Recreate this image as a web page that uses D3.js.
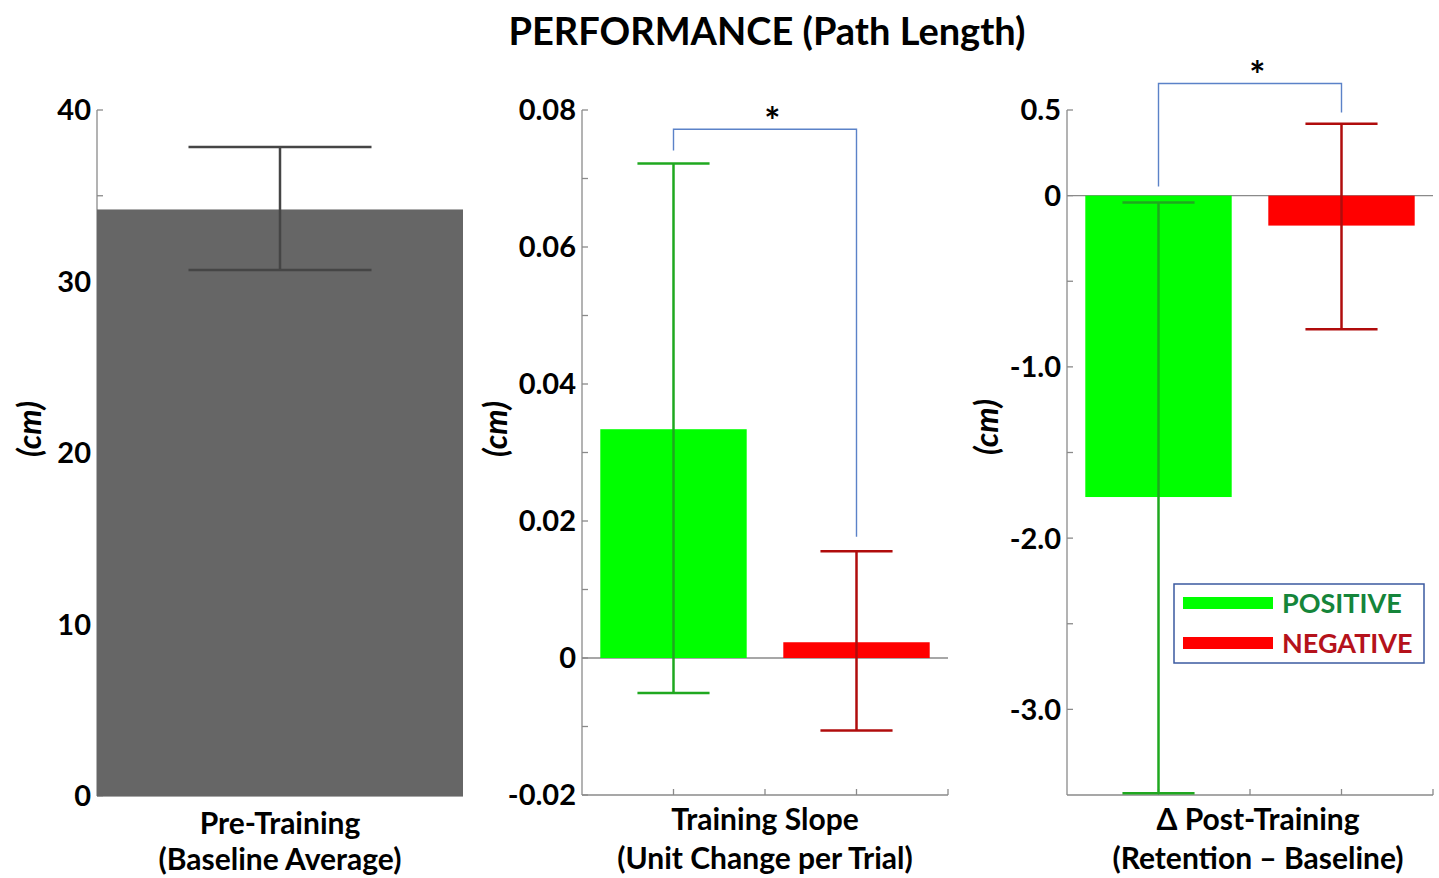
<!DOCTYPE html>
<html><head><meta charset="utf-8">
<script src="https://cdn.jsdelivr.net/npm/d3@7"></script>
<style>
html,body{margin:0;padding:0;background:#fff;}
svg text{font-family:Lato,"Open Sans",sans-serif;font-weight:bold;}
</style></head>
<body>
<svg id="chart" width="1439" height="878"></svg>
<script>
// ---------- DATA ----------
const title = "PERFORMANCE (Path Length)";
const groups = ["POSITIVE", "NEGATIVE"];

// Panel 1: pre-training baseline
const baselineMean = [34.2];
const baselineLow = [30.67];
const baselineHigh = [37.84];
const baselineTicks = [0, 10, 20, 30, 40];
const baselineMinor = [5, 15, 25, 35];

// Panel 2: training slope
const slopeMean = [0.0334, 0.0023];
const slopeLow = [-0.0051, -0.0106];
const slopeHigh = [0.0722, 0.0156];
const slopeTicks = [-0.02, 0, 0.02, 0.04, 0.06, 0.08];
const slopeTickLabels = ["-0.02", "0", "0.02", "0.04", "0.06", "0.08"];
const slopeMinor = [-0.01, 0.01, 0.03, 0.05, 0.07];
const slopeBracket = [0.0741, 0.0772, 0.0177]; // left end, top, right end

// Panel 3: delta post-training
const deltaMean = [-1.76, -0.175];
const deltaLow = [-3.49, -0.78];
const deltaHigh = [-0.04, 0.42];
const deltaTicks = [-3.0, -2.0, -1.0, 0, 0.5];
const deltaTickLabels = ["-3.0", "-2.0", "-1.0", "0", "0.5"];
const deltaMinor = [-2.5, -1.5, -0.5];
const deltaBracket = [0.053, 0.655, 0.485];

const xTicks = [1, 1.5, 2, 2.5];

// ---------- STYLE ----------
const barColors = ["#00ff00", "#ff0000"];
const errColors = ["#1fa81f", "#b00c0c"];
const legendText = ["#15853a", "#b5121b"];
const axisColor = "#8a8a8a";
const bracketColor = "#5b82c8";

const svg = d3.select("#chart");

svg.append("text").attr("x", 767).attr("y", 45).attr("text-anchor", "middle")
  .style("font-size", "38px").attr("fill", "#000").text(title);

function yLabel(x, y) {
  svg.append("text").attr("transform", `translate(${x},${y}) rotate(-90)`)
    .attr("text-anchor", "middle").style("font-size", "32px").style("font-style", "italic")
    .attr("fill", "#000").text("(cm)");
}

function xLabel(cx, lines, top, gap) {
  lines.forEach((t, i) => {
    svg.append("text").attr("x", cx).attr("y", top + i * gap).attr("text-anchor", "middle")
      .style("font-size", "30px").attr("fill", "#000").text(t);
  });
}

function drawAxes(g, x, y, ticks, labels, minor, showBottom, bottomTicks) {
  const [y0, y1] = y.range();
  const [x0, x1] = x.range();
  const ax = g.append("g");
  ax.append("line").attr("x1", x0).attr("x2", x0).attr("y1", y0).attr("y2", y1)
    .attr("stroke", axisColor).attr("stroke-width", 1.3);
  const all = ticks.concat(minor);
  ax.selectAll(".tk").data(all).join("line")
    .attr("x1", x0).attr("x2", x0 + 6).attr("y1", d => y(d)).attr("y2", d => y(d))
    .attr("stroke", axisColor).attr("stroke-width", 1.3);
  ax.selectAll(".tl").data(ticks).join("text")
    .attr("x", x0 - 6).attr("y", d => y(d)).attr("dy", "0.36em")
    .attr("text-anchor", "end").style("font-size", "29px").attr("fill", "#000")
    .text((d, i) => labels[i]);
  if (showBottom) {
    ax.append("line").attr("x1", x0).attr("x2", x1).attr("y1", y0).attr("y2", y0)
      .attr("stroke", axisColor).attr("stroke-width", 1.3);
    ax.selectAll(".bt").data(bottomTicks).join("line")
      .attr("x1", d => x(d)).attr("x2", d => x(d)).attr("y1", y0).attr("y2", y0 - 6)
      .attr("stroke", axisColor).attr("stroke-width", 1.3);
  }
}

function errorBar(g, x, y, xi, lo, hi, color, halfW) {
  g.append("line").attr("x1", x(xi)).attr("x2", x(xi)).attr("y1", y(lo)).attr("y2", y(hi))
    .attr("stroke", color).attr("stroke-width", 2.5);
  [lo, hi].forEach(v => {
    g.append("line").attr("x1", x(xi - halfW)).attr("x2", x(xi + halfW)).attr("y1", y(v)).attr("y2", y(v))
      .attr("stroke", color).attr("stroke-width", 2.5);
  });
}

// ---------- PANEL 1 ----------
{
  const x = d3.scaleLinear().domain([0.6, 1.4]).range([97, 463]);
  const y = d3.scaleLinear().domain([0, 40]).range([796, 110]);
  const g = svg.append("g");
  drawAxes(g, x, y, baselineTicks, baselineTicks.map(String), baselineMinor, true, []);
  g.append("rect").attr("x", x(0.6)).attr("width", x(1.4) - x(0.6))
    .attr("y", y(baselineMean[0])).attr("height", y(0) - y(baselineMean[0])).attr("fill", "#666666");
  errorBar(g, x, y, 1, baselineLow[0], baselineHigh[0], "#454545", 0.2);
  yLabel(41, 429);
  xLabel(280, ["Pre-Training", "(Baseline Average)"], 834, 36);
}

// ---------- PANEL 2 & 3 ----------
function groupPanel(x0, means, lows, highs, ticks, labels, minor, ydom, bracket, legend) {
  const x = d3.scaleLinear().domain([0.5, 2.5]).range([x0, x0 + 366]);
  const y = d3.scaleLinear().domain(ydom).range([795, 110]);
  const g = svg.append("g");
  drawAxes(g, x, y, ticks, labels, minor, true, xTicks);
  g.append("line").attr("x1", x(0.5)).attr("x2", x(2.5)).attr("y1", y(0)).attr("y2", y(0))
    .attr("stroke", axisColor).attr("stroke-width", 1.3);
  means.forEach((m, i) => {
    const xi = i + 1;
    g.append("rect").attr("x", x(xi - 0.4)).attr("width", x(xi + 0.4) - x(xi - 0.4))
      .attr("y", y(Math.max(0, m))).attr("height", Math.abs(y(m) - y(0))).attr("fill", barColors[i]);
  });
  means.forEach((m, i) => errorBar(g, x, y, i + 1, lows[i], highs[i], errColors[i], 0.197));
  // significance bracket
  const path = d3.path();
  path.moveTo(x(1), y(bracket[0]));
  path.lineTo(x(1), y(bracket[1]));
  path.lineTo(x(2), y(bracket[1]));
  path.lineTo(x(2), y(bracket[2]));
  g.append("path").attr("d", path.toString()).attr("fill", "none")
    .attr("stroke", bracketColor).attr("stroke-width", 1.4);
  g.append("text").attr("x", x(1.54)).attr("y", y(bracket[1]) + 6).attr("text-anchor", "middle")
    .style("font-size", "38px").attr("fill", "#000").text("*");
  if (legend) {
    const lg = g.append("g");
    lg.append("rect").attr("x", 1174).attr("y", 584).attr("width", 250).attr("height", 79)
      .attr("fill", "#fff").attr("stroke", "#3b5aa0").attr("stroke-width", 1.5);
    groups.forEach((name, i) => {
      const cy = 603 + i * 40;
      lg.append("line").attr("x1", 1183).attr("x2", 1273).attr("y1", cy).attr("y2", cy)
        .attr("stroke", barColors[i]).attr("stroke-width", 12);
      lg.append("text").attr("x", 1282).attr("y", cy).attr("dy", "0.36em")
        .style("font-size", "27px").attr("fill", legendText[i]).text(name);
    });
  }
  return x;
}

groupPanel(582, slopeMean, slopeLow, slopeHigh, slopeTicks, slopeTickLabels, slopeMinor,
  [-0.02, 0.08], slopeBracket, false);
yLabel(507, 429);
xLabel(765, ["Training Slope", "(Unit Change per Trial)"], 830, 39);

groupPanel(1067, deltaMean, deltaLow, deltaHigh, deltaTicks, deltaTickLabels, deltaMinor,
  [-3.5, 0.5], deltaBracket, true);
yLabel(998, 427);
xLabel(1258, ["\u0394 Post-Training", "(Retention \u2013 Baseline)"], 830, 39);
</script>
</body></html>
